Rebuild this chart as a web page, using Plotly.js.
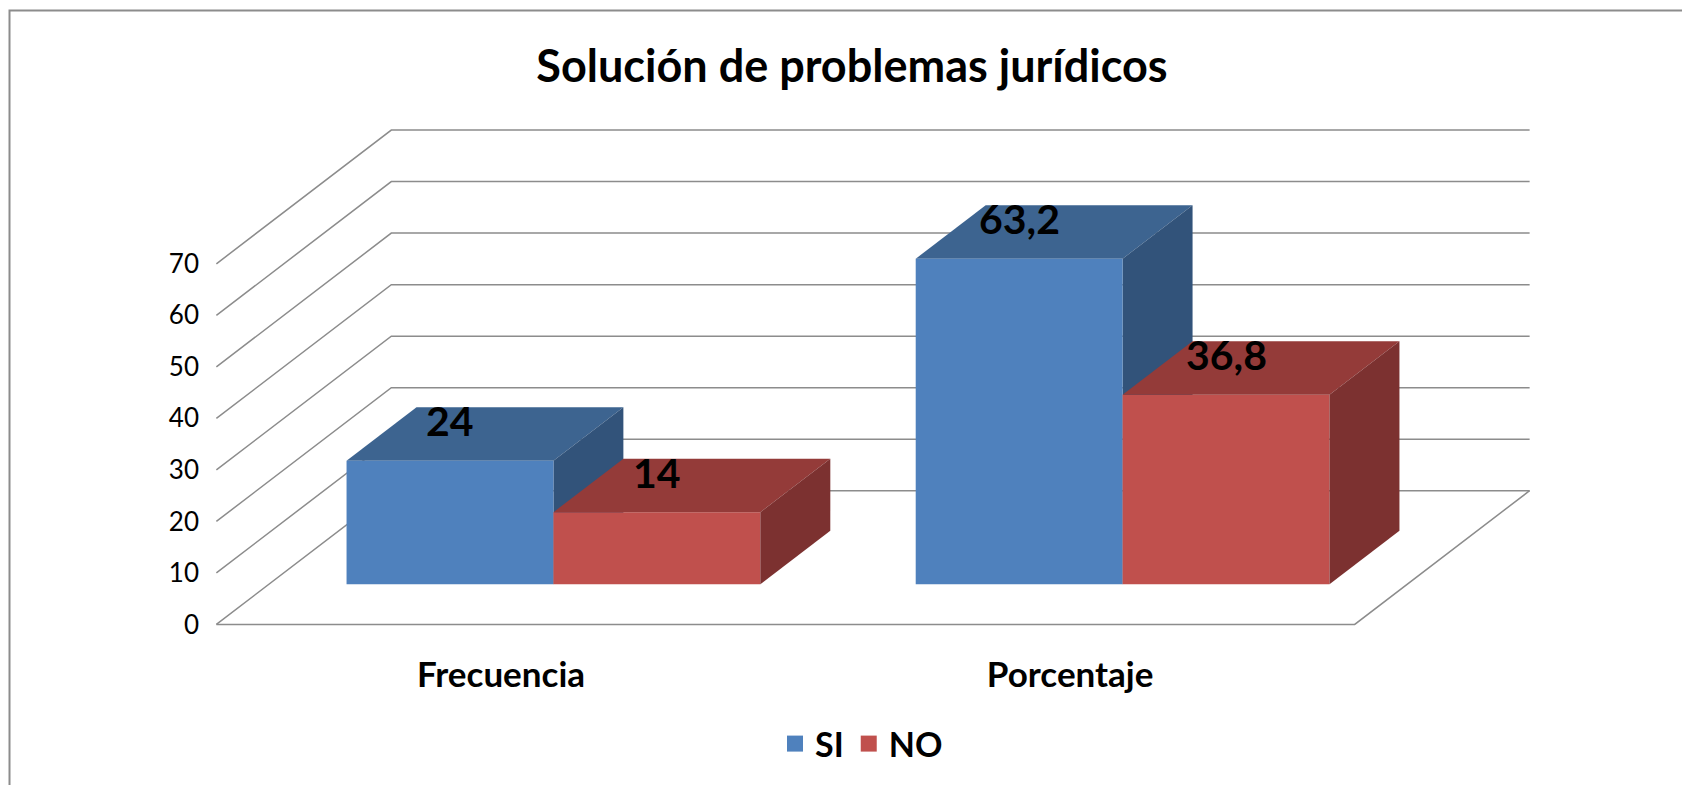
<!DOCTYPE html>
<html>
<head>
<meta charset="utf-8">
<script src="https://cdn.plot.ly/plotly-3.0.1.min.js"></script>
<style>
  html, body { margin: 0; padding: 0; background: #ffffff; }
  #chart { width: 1682px; height: 785px; }
</style>
</head>
<body>
<div id="chart"></div>
<script>
// ---------------- data ----------------
const categories = ['Frecuencia', 'Porcentaje'];
const seriesNames = ['SI', 'NO'];
const siValues = [24, 63.2];
const noValues = [14, 36.8];
const yTickValues = [0, 10, 20, 30, 40, 50, 60, 70];

// ---------------- style ----------------
const FONT = 'Lato, "Open Sans", sans-serif';
const colors = {
  SI: { front: '#4F81BD', top: '#3D6490', side: '#32537A' },
  NO: { front: '#C0504D', top: '#943B39', side: '#7C3130' }
};
const GRID = '#8C8C8C';

// pseudo-3D projection (oblique): depth expressed in axis units
const DEPTH_X = 0.3073;   // category units for full depth
const DEPTH_Y = 25.96;    // value units for full depth
const FRONT = 0.30;       // depth fraction where bar fronts sit
const BAR_DEPTH = 0.40;   // depth fraction of each bar
const BARGAP = 0.273;
const barW = (1 - BARGAP) / 2;

// figure / pixel mapping
const W = 1682, H = 785;
const PX_X = 569.5, PX_Y = 360 / 70;
const X0PX = 216, Y0PX = 624; // pixels of x=-0.5 / y=0
const xRange = [-0.52, 1.5 + DEPTH_X + 0.02];
const yRange = [-0.5, 70 + DEPTH_Y + 0.6];
const mL = X0PX - (-0.5 - xRange[0]) * PX_X;
const mR = W - (X0PX + (xRange[1] + 0.5) * PX_X);
const mB = H - (Y0PX + (0 - yRange[0]) * PX_Y);
const mT = Y0PX - yRange[1] * PX_Y;
const plotW = W - mL - mR, plotH = H - mT - mB;
const paperX = px => (px - mL) / plotW;
const paperY = py => (H - mB - py) / plotH;

const xIdx = categories.map((c, i) => i);
const shift = FRONT * DEPTH_X;
const base = FRONT * DEPTH_Y;

// ---------------- traces ----------------
const traces = [];
[siValues, noValues].forEach((vals, s) => {
  const name = seriesNames[s];
  traces.push({
    type: 'bar',
    x: xIdx.map(i => i + shift),
    y: vals,
    base: vals.map(() => base),
    name: name,
    legendgroup: name,
    showlegend: false,
    marker: { color: colors[name].front, line: { width: 0 } },
    hoverinfo: 'skip'
  });
});
// legend entries
seriesNames.forEach(name => {
  traces.push({
    type: 'scatter', mode: 'markers',
    x: [null], y: [null],
    name: name, legendgroup: name,
    marker: { symbol: 'square', size: 19, color: colors[name].front },
    hoverinfo: 'skip'
  });
});

// ---------------- shapes ----------------
const shapes = [];
// back wall + side wall gridlines
yTickValues.forEach(v => {
  shapes.push({
    type: 'path', xref: 'x', yref: 'y', layer: 'below',
    path: `M${-0.5},${v} L${-0.5 + DEPTH_X},${v + DEPTH_Y} L${1.5 + DEPTH_X},${v + DEPTH_Y}`,
    line: { color: GRID, width: 1.5 }
  });
});
// floor
shapes.push({
  type: 'path', xref: 'x', yref: 'y', layer: 'below',
  path: `M${-0.5},0 L${1.5},0 L${1.5 + DEPTH_X},${DEPTH_Y}`,
  line: { color: GRID, width: 1.5 }
});

const dx = BAR_DEPTH * DEPTH_X, dy = BAR_DEPTH * DEPTH_Y;
function barFaces(i, s, v, layer) {
  const name = seriesNames[s];
  const left = i + shift - (s === 0 ? barW : 0);
  const right = left + barW;
  const top = base + v;
  shapes.push({
    type: 'path', xref: 'x', yref: 'y', layer: layer,
    path: `M${left},${top} L${right},${top} L${right + dx},${top + dy} L${left + dx},${top + dy} Z`,
    fillcolor: colors[name].top, line: { width: 0 }
  });
  shapes.push({
    type: 'path', xref: 'x', yref: 'y', layer: layer,
    path: `M${right},${base} L${right},${top} L${right + dx},${top + dy} L${right + dx},${base + dy} Z`,
    fillcolor: colors[name].side, line: { width: 0 }
  });
}
// SI faces are partly hidden by the NO bar in front of them -> below traces
siValues.forEach((v, i) => barFaces(i, 0, v, 'below'));
noValues.forEach((v, i) => barFaces(i, 1, v, 'above'));

// outer chart border (left and top edges visible)
shapes.push({
  type: 'path', xref: 'paper', yref: 'paper', layer: 'below',
  path: `M${paperX(9)},${paperY(H + 20)} L${paperX(9)},${paperY(11)} L${paperX(W + 20)},${paperY(11)}`,
  line: { color: '#8C8C8C', width: 2 }
});

// ---------------- data labels ----------------
const annotations = [];
[siValues, noValues].forEach((vals, s) => {
  vals.forEach((v, i) => {
    const left = i + shift - (s === 0 ? barW : 0);
    annotations.push({
      xref: 'x', yref: 'y',
      x: left + barW / 2, y: base + v,
      yshift: 40, showarrow: false,
      xanchor: 'center', yanchor: 'middle',
      text: String(v).replace('.', ','),
      font: { family: FONT, size: 41, color: '#000000', weight: 'bold' }
    });
  });
});

const layout = {
  width: W, height: H,
  paper_bgcolor: '#ffffff', plot_bgcolor: 'rgba(0,0,0,0)',
  margin: { l: mL, r: mR, t: mT, b: mB, pad: 0, autoexpand: false },
  title: {
    text: '<b>Solución de problemas jurídicos</b>',
    xref: 'container', yref: 'container',
    x: 852 / W, xanchor: 'center',
    y: 1 - 66 / H, yanchor: 'middle',
    font: { family: FONT, size: 45, color: '#000000' }
  },
  barmode: 'group', bargap: BARGAP, bargroupgap: 0,
  xaxis: {
    range: xRange, fixedrange: true,
    tickmode: 'array', tickvals: xIdx, ticktext: categories,
    showgrid: false, zeroline: false, showline: false, ticks: '',
    ticklabelstandoff: 24,
    tickfont: { family: FONT, size: 35, color: '#000000', weight: 'bold' }
  },
  yaxis: {
    range: yRange, fixedrange: true,
    tickmode: 'array', tickvals: yTickValues, ticktext: yTickValues.map(String),
    showgrid: false, zeroline: false, showline: false, ticks: '',
    ticklabelstandoff: 5,
    tickfont: { family: FONT, size: 26, color: '#000000' }
  },
  shapes: shapes,
  annotations: annotations,
  showlegend: true,
  legend: {
    orientation: 'h',
    xref: 'container', yref: 'container',
    x: 775 / W, xanchor: 'left',
    y: 1 - 744 / H, yanchor: 'middle',
    itemwidth: 30,
    font: { family: FONT, size: 34, color: '#000000', weight: 'bold' },
    bgcolor: 'rgba(0,0,0,0)', borderwidth: 0
  }
};

Plotly.newPlot('chart', traces, layout, { displayModeBar: false, staticPlot: true });
</script>
</body>
</html>
